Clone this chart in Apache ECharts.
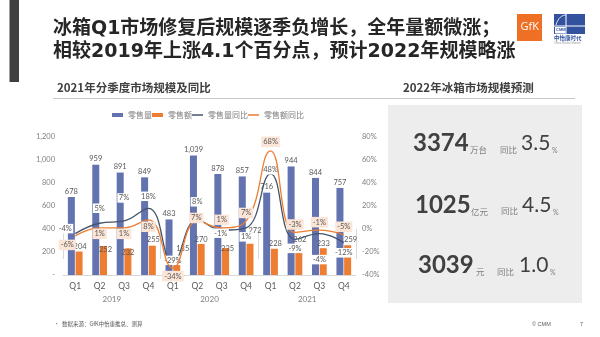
<!DOCTYPE html>
<html>
<head>
<meta charset="utf-8">
<script src="https://cdn.jsdelivr.net/npm/echarts@6/dist/echarts.min.js"></script>
<style>
  html, body { margin: 0; padding: 0; background: #fff; }
  #chart { width: 600px; height: 337px; }
</style>
</head>
<body>
<div id="chart"></div>
<script>
// Quarterly refrigerator market: retail volume (万台), retail value (亿元) and YoY changes (%)
const quarters = ['Q1', 'Q2', 'Q3', 'Q4', 'Q1', 'Q2', 'Q3', 'Q4', 'Q1', 'Q2', 'Q3', 'Q4'];
const years = ['2019', '2020', '2021'];
const salesVolume = [678, 959, 891, 849, 483, 1039, 878, 857, 716, 944, 844, 757];
const salesAmount = [204, 252, 232, 255, 135, 270, 235, 272, 228, 262, 233, 259];
const volumeYoY = [-4, 5, 7, 18, -29, 8, -1, 1, 48, -9, -4, -12];
const amountYoY = [-6, 1, 1, 8, -34, 7, 1, 7, 68, -3, -1, -5];

// Axis scales
const leftAxis = { min: 0, max: 1200, interval: 200 };
const rightAxis = { min: -40, max: 80, interval: 20 };

// 2022 forecast figures
const forecastValues = ['3374', '1025', '3039'];
const forecastUnits = ['万台', '亿元', '元'];
const forecastGrowth = ['3.5', '4.5', '1.0'];

// Label nudges (pixels) so the callouts sit where they read best
const volumeLabelShift = [[-10, -5], [0, -15], [0, -23], [0, -12], [0, -2], [0, -18], [-1, 3], [0, 9], [0, -4], [0, 9], [0, 26], [0, 10]];
const amountLabelShift = [[-8, 9], [0, 6], [0, 6], [0, 7], [0, 8], [-1, -3], [0, -8], [0, -8], [0, -9], [0, -8], [0, -8], [0, -8]];
const amountBarLabelShift = [[1, 0], [2, 8], [0, 9], [1, -1], [6, -6], [0, 0], [2, 5], [5, -8], [1, 0], [1, -1], [0, 0], [3, -1]];

const C_BLUE = '#6373AF';
const C_ORANGE = '#ED7D31';
const C_NAVY = '#44546A';
const C_TEXT = '#595959';
const C_AXIS = '#7f7f7f';
const FONT = 'Lato, "Noto Sans CJK SC", sans-serif';
const CJK = '"Noto Sans CJK SC", sans-serif';
const HEAD = '"DejaVu Sans", "Noto Sans CJK SC", sans-serif';

const chart = echarts.init(document.getElementById('chart'), null, { renderer: 'canvas' });

const pctLabelBase = {
  show: true,
  position: 'inside',
  fontSize: 7.5,
  fontFamily: FONT,
  color: C_TEXT,
  formatter: p => p.value + '%'
};

// Forecast panel text
const panelRows = [
  { y: 145.5, numX: 413, unitX: 470, yoyX: 500, growthX: 521 },
  { y: 207, numX: 415, unitX: 471, yoyX: 501, growthX: 522 },
  { y: 267.5, numX: 418, unitX: 476, yoyX: 497, growthX: 519 }
];
const panelGraphics = [];
panelRows.forEach((r, i) => {
  panelGraphics.push({
    type: 'text', left: r.numX, top: r.y - 14,
    style: { text: forecastValues[i], font: 'bold 24px Lato, sans-serif', fill: '#404040' }
  });
  panelGraphics.push({
    type: 'text', left: r.unitX, top: r.y + 0.5,
    style: { text: forecastUnits[i], font: '8.5px ' + CJK, fill: '#7f7f7f' }
  });
  panelGraphics.push({
    type: 'text', left: r.yoyX, top: r.y,
    style: { text: '同比', font: '8.5px ' + CJK, fill: '#7f7f7f' }
  });
  panelGraphics.push({
    type: 'text', left: r.growthX, top: r.y - 12.5,
    style: { text: forecastGrowth[i], font: '21px Lato, sans-serif', fill: '#404040' }
  });
  panelGraphics.push({
    type: 'text', left: r.growthX + 31, top: r.y + 2,
    style: { text: '%', font: '7px Lato, sans-serif', fill: '#7f7f7f' }
  });
});

const option = {
  animation: false,
  textStyle: { fontFamily: FONT },
  legend: {
    left: 112, top: 111, padding: 0,
    itemWidth: 11, itemHeight: 4, itemGap: 0,
    textStyle: { fontSize: 8, color: C_AXIS, fontFamily: CJK },
    selectedMode: false,
    data: [
      { name: '零售量', icon: 'rect' },
      { name: '零售额', icon: 'rect' },
      { name: '零售量同比', icon: 'path://M0,0 L22,0 L22,3 L0,3 Z' },
      { name: '零售额同比', icon: 'path://M0,0 L22,0 L22,3 L0,3 Z' }
    ]
  },
  grid: { left: 63, right: 244, top: 137, bottom: 62, containLabel: false },
  xAxis: [
    {
      type: 'category', data: quarters, position: 'bottom',
      axisLine: { show: true, lineStyle: { color: '#d9d9d9', width: 1 } },
      axisTick: { show: false },
      axisLabel: { color: C_TEXT, fontSize: 8.5, margin: 7, fontFamily: FONT }
    },
    {
      type: 'category', data: years, position: 'bottom',
      axisLine: { show: false },
      axisTick: { show: true, length: 30, lineStyle: { color: '#d9d9d9', width: 1 } },
      axisLabel: { color: C_AXIS, fontSize: 8, margin: 20, fontFamily: FONT }
    }
  ],
  yAxis: [
    {
      type: 'value', min: leftAxis.min, max: leftAxis.max, interval: leftAxis.interval,
      axisLine: { show: false }, axisTick: { show: false }, splitLine: { show: false },
      axisLabel: {
        color: C_AXIS, fontSize: 7.5, margin: 8, fontFamily: FONT,
        formatter: v => v === 0 ? '-' : v.toLocaleString('en-US')
      }
    },
    {
      type: 'value', min: rightAxis.min, max: rightAxis.max, interval: rightAxis.interval,
      axisLine: { show: false }, axisTick: { show: false }, splitLine: { show: false },
      axisLabel: { color: C_AXIS, fontSize: 7.5, margin: 6, fontFamily: FONT, formatter: '{value}%' }
    }
  ],
  series: [
    {
      name: '零售量', type: 'bar', data: salesVolume,
      barWidth: 7, barGap: '10%',
      itemStyle: { color: C_BLUE },
      label: {
        show: true, position: 'top', distance: 2, fontSize: 7.5, color: C_TEXT, fontFamily: FONT,
        formatter: p => p.value.toLocaleString('en-US')
      },
      emphasis: { disabled: true }
    },
    {
      name: '零售额', type: 'bar', barWidth: 7,
      data: salesAmount.map((v, i) => ({ value: v, label: { offset: amountBarLabelShift[i] } })),
      itemStyle: { color: C_ORANGE },
      label: { show: true, position: 'top', distance: 1, fontSize: 7.5, color: C_TEXT, fontFamily: FONT },
      emphasis: { disabled: true }
    },
    {
      name: '零售量同比', type: 'line', yAxisIndex: 1, smooth: 0.45,
      symbol: 'circle', symbolSize: 0.01, showSymbol: true,
      lineStyle: { color: C_NAVY, width: 1.3 },
      itemStyle: { color: C_NAVY },
      data: volumeYoY.map((v, i) => ({ value: v, label: { offset: volumeLabelShift[i] } })),
      label: Object.assign({}, pctLabelBase, { backgroundColor: '#ffffff', padding: [1, 1.5] }),
      emphasis: { disabled: true }, z: 3
    },
    {
      name: '零售额同比', type: 'line', yAxisIndex: 1, smooth: 0.45,
      symbol: 'circle', symbolSize: 0.01, showSymbol: true,
      lineStyle: { color: C_ORANGE, width: 1.3 },
      itemStyle: { color: C_ORANGE },
      data: amountYoY.map((v, i) => ({ value: v, label: { offset: amountLabelShift[i] } })),
      label: Object.assign({}, pctLabelBase, { backgroundColor: '#FBE5D6', padding: [1.5, 2] }),
      emphasis: { disabled: true }, z: 4
    }
  ],
  graphic: [
    // left accent bar and headline
    { type: 'rect', shape: { x: 9.5, y: 0, width: 9.5, height: 82 }, style: { fill: '#3f3f3f' } },
    { type: 'text', left: 53, top: 19.5, style: { text: '冰箱Q1市场修复后规模逐季负增长，全年量额微涨；', font: 'bold 19px ' + HEAD, fill: '#262626' } },
    { type: 'text', left: 53, top: 43, style: { text: '相较2019年上涨4.1个百分点，预计2022年规模略涨', font: 'bold 19px ' + HEAD, fill: '#262626' } },
    // GfK badge
    { type: 'rect', shape: { x: 517, y: 14, width: 25, height: 27 }, style: { fill: '#EF6F24' } },
    { type: 'text', left: 520.5, top: 21, style: { text: 'GfK', font: '11px "Open Sans", sans-serif', fill: '#ffffff' } },
    // CMM badge
    { type: 'rect', shape: { x: 554, y: 14, width: 31, height: 20 }, style: { fill: '#33529E' } },
    { type: 'line', shape: { x1: 554, y1: 26, x2: 585, y2: 26 }, style: { stroke: '#ffffff', lineWidth: 1 } },
    { type: 'line', shape: { x1: 566, y1: 14, x2: 566, y2: 34 }, style: { stroke: '#ffffff', lineWidth: 1 } },
    { type: 'rect', shape: { x: 555, y: 27, width: 10.5, height: 6.5 }, style: { fill: '#ffffff' } },
    { type: 'bezierCurve', shape: { x1: 556, y1: 25, x2: 566, y2: 15, cpx1: 558, cpy1: 18, cpx2: 562, cpy2: 15 }, style: { stroke: '#ffffff', lineWidth: 0.8, fill: null } },
    { type: 'text', left: 556, top: 28, style: { text: 'CMM', font: 'bold 4px sans-serif', fill: '#33529E' } },
    { type: 'text', left: 554, top: 35.5, style: { text: '中怡康时代', font: 'bold 5.5px ' + CJK, fill: '#33529E' } },
    { type: 'text', left: 554, top: 42, style: { text: 'China Market Monitor', font: '2.8px sans-serif', fill: '#9a9a9a' } },
    // section headings with shared rule
    { type: 'text', left: 57, top: 82, style: { text: '2021年分季度市场规模及同比', font: 'bold 11.5px ' + CJK, fill: '#404040' } },
    { type: 'text', left: 403, top: 82, style: { text: '2022年冰箱市场规模预测', font: 'bold 11.5px ' + CJK, fill: '#404040' } },
    { type: 'line', shape: { x1: 53, y1: 98.5, x2: 575, y2: 98.5 }, style: { stroke: '#c8c8c8', lineWidth: 1 } },
    // forecast panel
    { type: 'rect', shape: { x: 388, y: 105, width: 194, height: 198 }, style: { fill: '#EDEDED' }, z: -1 },
    ...panelGraphics,
    // footer
    { type: 'text', left: 54, top: 321.5, style: { text: '•  数据来源：GfK中怡康推总、测算', font: '5.5px ' + CJK, fill: '#595959' } },
    { type: 'text', left: 532, top: 321.5, style: { text: '© CMM', font: '5.5px sans-serif', fill: '#595959' } },
    { type: 'text', left: 580, top: 321.5, style: { text: '7', font: '5.5px sans-serif', fill: '#595959' } }
  ]
};

chart.setOption(option);
</script>
</body>
</html>
